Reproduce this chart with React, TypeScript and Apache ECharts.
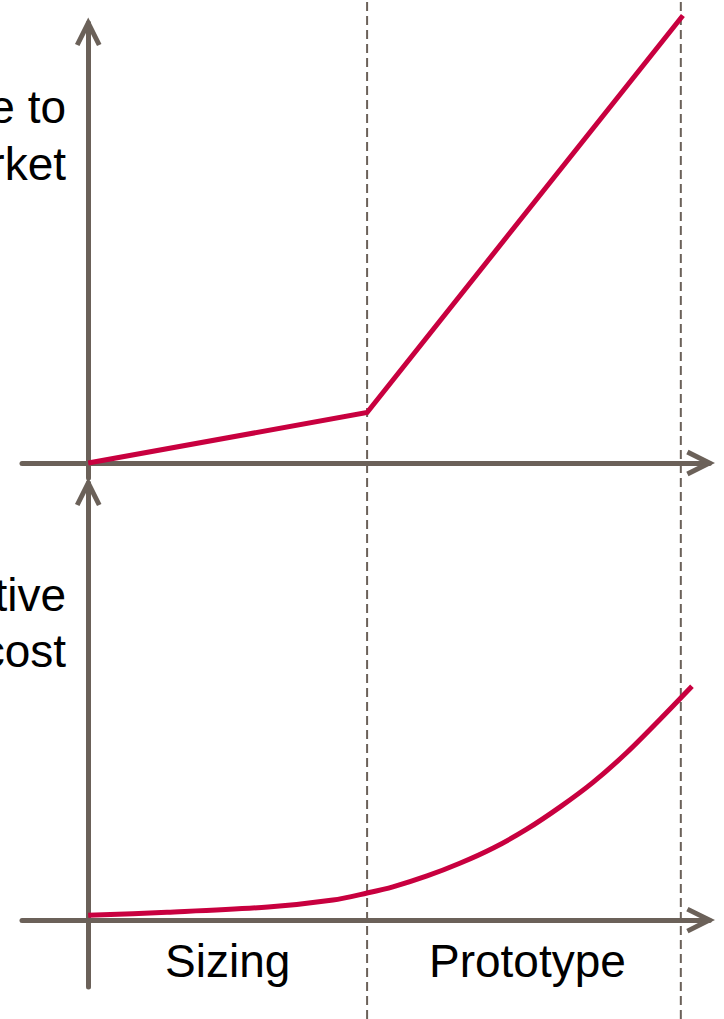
import React, { useEffect, useRef } from "react";
import * as echarts from "echarts";

// Phases along the time axis
const phaseNames = ["Sizing", "Prototype"];
const phaseLabelX = [2, 6.3];
const phaseBounds = [4, 8.5];

// Time to market: piecewise linear
const timeX = [0, 4, 8.53];
const timeY = [0, 1.15, 10.17];

// Cumulative cost: smooth, accelerating curve
const costX = [0, 1.13, 2.58, 3.51, 4.0, 4.37, 4.86, 5.33, 5.81, 6.29, 6.77, 7.24, 7.73, 8.2, 8.66];
const costY = [0.11, 0.18, 0.3, 0.46, 0.62, 0.76, 1.01, 1.3, 1.65, 2.08, 2.59, 3.15, 3.84, 4.59, 5.35];

const AXIS = "#6b6159";
const RED = "#c8003f";
const FONT = "'Liberation Sans', Arial, sans-serif";

// Open chevron arrow head, pointing up, centerline tip at (0,0)
const CHEVRON =
  "path://M0,-5.59 L13.236,20.882 L8.764,23.118 L0,5.59 L-8.764,23.118 L-13.236,20.882 Z";

const arrowLine = {
  show: true,
  onZero: true,
  symbol: ["none", CHEVRON],
  symbolSize: [26.47, 28.71],
  symbolOffset: [0, -8.76],
  lineStyle: { color: AXIS, width: 5 },
};

const X_MIN = -0.95;
const X_MAX = 8.91;

export default function App() {
  const ref = useRef<HTMLDivElement>(null);

  useEffect(() => {
    if (!ref.current) return;
    const chart = echarts.init(ref.current, null, { renderer: "svg" });

    const hiddenBits = {
      axisTick: { show: false },
      axisLabel: { show: false },
      splitLine: { show: false },
    };

    const gridLeft = 22;
    const gridWidth = 687.4;

    const option: any = {
      animation: false,
      backgroundColor: "#ffffff",
      grid: [
        { left: gridLeft, width: gridWidth, top: 23, height: 455, outerBoundsMode: "none", containLabel: false },
        { left: gridLeft, width: gridWidth, top: 483, height: 504, outerBoundsMode: "none", containLabel: false },
        { left: gridLeft, width: gridWidth, top: 0, height: 1019, outerBoundsMode: "none", containLabel: false },
      ],
      xAxis: [
        { type: "value", gridIndex: 0, min: X_MIN, max: X_MAX, axisLine: arrowLine, ...hiddenBits },
        {
          type: "value",
          gridIndex: 1,
          min: X_MIN,
          max: X_MAX,
          axisLine: arrowLine,
          axisTick: { show: false },
          splitLine: { show: false },
          axisLabel: {
            show: true,
            customValues: phaseLabelX,
            margin: -49,
            fontSize: 46,
            lineHeight: 46,
            fontFamily: FONT,
            color: "#000000",
            formatter: (v: number) => {
              const i = phaseLabelX.findIndex((p) => Math.abs(p - v) < 1e-6);
              return i >= 0 ? phaseNames[i] : "";
            },
          },
        },
        { type: "value", gridIndex: 2, min: X_MIN, max: X_MAX, show: false },
      ],
      yAxis: [
        { type: "value", gridIndex: 0, min: -0.34, max: 10, axisLine: arrowLine, ...hiddenBits },
        { type: "value", gridIndex: 1, min: -1.53, max: 10, axisLine: arrowLine, ...hiddenBits },
        { type: "value", gridIndex: 2, min: 0, max: 1, show: false },
      ],
      series: [
        ...phaseBounds.map((b) => ({
          type: "line",
          xAxisIndex: 2,
          yAxisIndex: 2,
          data: [
            [b, 0],
            [b, 1],
          ],
          symbol: "none",
          z: 1,
          silent: true,
          lineStyle: { color: AXIS, width: 2, type: [9, 5] },
        })),
        {
          type: "line",
          xAxisIndex: 0,
          yAxisIndex: 0,
          data: timeX.map((x, i) => [x, timeY[i]]),
          symbol: "none",
          clip: false,
          z: 5,
          lineStyle: { color: RED, width: 5, join: "miter" },
        },
        {
          type: "line",
          xAxisIndex: 1,
          yAxisIndex: 1,
          data: costX.map((x, i) => [x, costY[i]]),
          symbol: "none",
          smooth: 0.3,
          clip: false,
          z: 5,
          lineStyle: { color: RED, width: 5, join: "round" },
        },
      ],
      graphic: [
        {
          type: "text",
          x: 66,
          y: 78,
          style: {
            text: "Time to\nmarket",
            align: "right",
            verticalAlign: "top",
            fontSize: 46,
            lineHeight: 57,
            fontFamily: FONT,
            fill: "#000000",
          },
        },
        {
          type: "text",
          x: 66,
          y: 567,
          style: {
            text: "Cumulative\ncost",
            align: "right",
            verticalAlign: "top",
            fontSize: 46,
            lineHeight: 56,
            fontFamily: FONT,
            fill: "#000000",
          },
        },
      ],
    };

    chart.setOption(option);
    return () => chart.dispose();
  }, []);

  return (
    <div
      ref={ref}
      style={{ position: "fixed", left: 0, top: 0, width: 724, height: 1019 }}
    />
  );
}
